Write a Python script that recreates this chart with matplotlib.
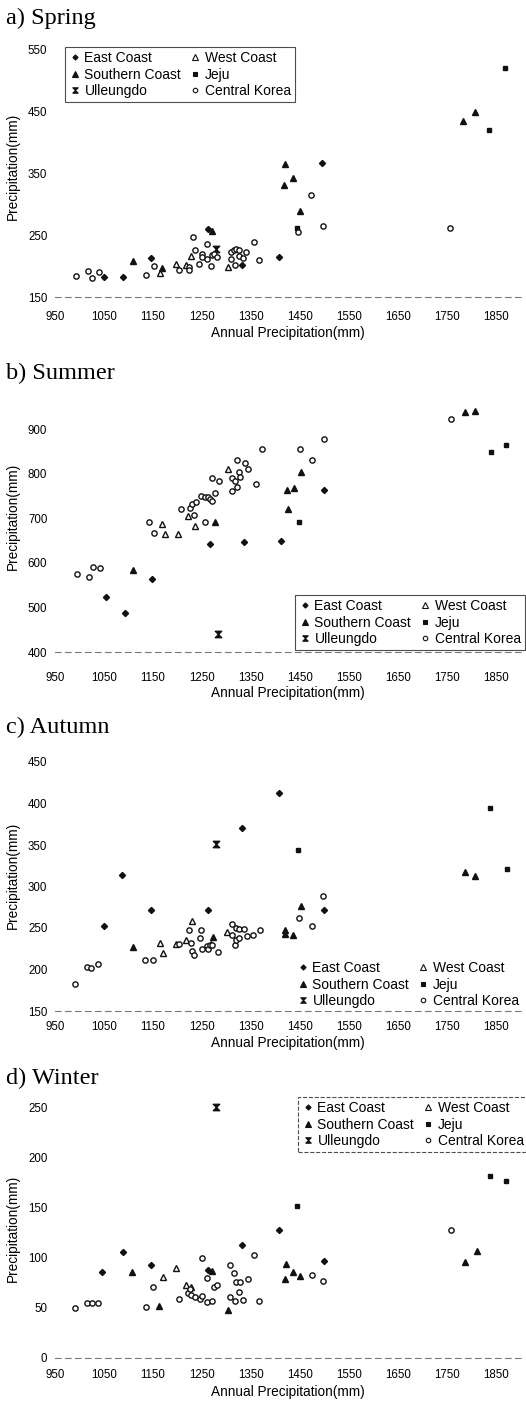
import matplotlib.pyplot as plt
from matplotlib.path import Path
from matplotlib.lines import Line2D

W, H = 526, 1406
SANS = "Liberation Sans"
SERIF = "Liberation Serif"

# station groups: E=East Coast, S=Southern Coast, U=Ulleungdo,
# W=West Coast, J=Jeju, C=Central Korea
GROUP_ORDER = ["E", "S", "U", "W", "J", "C"]
GROUP_NAMES = {"E": "East Coast", "S": "Southern Coast", "U": "Ulleungdo",
               "W": "West Coast", "J": "Jeju", "C": "Central Korea"}

XTICKS = [950, 1050, 1150, 1250, 1350, 1450, 1550, 1650, 1750, 1850]

# ---- a) Spring
spring_x = [1050, 1089, 1145, 1262, 1332, 1406, 1495,
            1110, 1169, 1271, 1417, 1418, 1435, 1450, 1782, 1807,
            1279,
            1164, 1196, 1218, 1228, 1302,
            1443, 1834, 1868,
            993, 1018, 1026, 1040, 1135, 1151, 1202, 1224, 1224, 1232, 1236, 1244,
            1249, 1249, 1259, 1260, 1269, 1270, 1274, 1281, 1308, 1309, 1315, 1317,
            1320, 1325, 1326, 1333, 1340, 1355, 1365, 1446, 1471, 1496, 1756]
spring_y = [183, 182, 213, 260, 202, 214, 366,
            208, 196, 256, 331, 365, 342, 289, 434, 449,
            228,
            189, 204, 202, 216, 199,
            262, 419, 519,
            184, 192, 181, 190, 185, 200, 194, 198, 193, 246, 226, 204,
            220, 214, 235, 211, 200, 218, 220, 214, 212, 223, 226, 202,
            228, 226, 216, 213, 223, 239, 210, 255, 314, 265, 262]
spring_grp = ["E"] * 7 + ["S"] * 9 + ["U"] + ["W"] * 5 + ["J"] * 3 + ["C"] * 35

# ---- b) Summer
summer_x = [1053, 1093, 1148, 1266, 1336, 1410, 1498,
            1110, 1276, 1422, 1424, 1437, 1451, 1785, 1807,
            1283,
            1169, 1175, 1200, 1222, 1235, 1303,
            1448, 1838, 1870,
            994, 1019, 1028, 1042, 1141, 1152, 1206, 1226, 1230, 1233, 1237, 1248,
            1255, 1255, 1262, 1267, 1271, 1271, 1276, 1285, 1311, 1311, 1317, 1321,
            1321, 1325, 1328, 1338, 1344, 1359, 1371, 1450, 1473, 1498, 1758]
summer_y = [524, 487, 563, 642, 647, 650, 763,
            584, 691, 763, 720, 768, 803, 939, 940,
            440,
            687, 666, 666, 706, 683, 810,
            692, 849, 864,
            576, 569, 590, 588, 692, 667, 720, 723, 732, 708, 737, 750,
            747, 692, 748, 744, 739, 791, 758, 783, 790, 761, 783, 832,
            771, 804, 793, 825, 810, 777, 855, 855, 832, 879, 922]
summer_grp = ["E"] * 7 + ["S"] * 8 + ["U"] + ["W"] * 6 + ["J"] * 3 + ["C"] * 35

# ---- c) Autumn
autumn_x = [1050, 1087, 1145, 1262, 1332, 1407, 1498,
            1108, 1272, 1418, 1419, 1435, 1451, 1786, 1807,
            1279,
            1164, 1171, 1196, 1218, 1230, 1269, 1301,
            1446, 1836, 1871,
            991, 1016, 1023, 1037, 1133, 1150, 1203, 1224, 1227, 1230, 1233,
            1245, 1248, 1250, 1260, 1262, 1265, 1270, 1283, 1310, 1311, 1316,
            1320, 1320, 1325, 1326, 1335, 1342, 1354, 1367, 1447, 1473, 1496]
autumn_y = [253, 314, 272, 272, 371, 413, 272,
            227, 239, 248, 243, 241, 277, 317, 313,
            351,
            232, 220, 231, 236, 258, 231, 245,
            344, 394, 321,
            183, 203, 202, 207, 212, 211, 231, 248, 232, 222, 218,
            238, 247, 225, 228, 225, 230, 229, 221, 241, 255, 230,
            235, 250, 238, 249, 249, 240, 242, 248, 262, 252, 288]
autumn_grp = ["E"] * 7 + ["S"] * 8 + ["U"] + ["W"] * 7 + ["J"] * 3 + ["C"] * 33

# ---- d) Winter
winter_x = [1046, 1088, 1145, 1262, 1332, 1407, 1498,
            1106, 1162, 1270, 1302, 1418, 1420, 1435, 1449, 1786, 1810,
            1278,
            1171, 1196, 1218, 1228,
            1444, 1836, 1870,
            991, 1016, 1026, 1038, 1135, 1149, 1202, 1221, 1225, 1228, 1235,
            1246, 1249, 1249, 1259, 1259, 1270, 1274, 1281, 1306, 1306, 1315,
            1317, 1319, 1325, 1327, 1334, 1344, 1355, 1366, 1473, 1497, 1758]
winter_y = [86, 106, 93, 88, 113, 128, 97,
            86, 52, 87, 48, 79, 94, 86, 82, 96, 107,
            251,
            81, 90, 73, 71,
            152, 182, 177,
            50, 55, 55, 55, 51, 71, 59, 65, 69, 63, 61,
            59, 62, 100, 80, 56, 57, 71, 73, 93, 61, 85,
            57, 76, 66, 76, 58, 79, 103, 57, 83, 77, 128]
winter_grp = ["E"] * 7 + ["S"] * 10 + ["U"] + ["W"] * 4 + ["J"] * 3 + ["C"] * 33

HOURGLASS = Path([(-1, 1), (1, 1), (0, 0), (1, -1), (-1, -1), (0, 0), (-1, 1)],
                 [Path.MOVETO] + [Path.LINETO] * 5 + [Path.CLOSEPOLY])

STYLE = {
    "E": dict(marker="D", ms=3.1, mfc="#111111"),
    "S": dict(marker="^", ms=4.4, mfc="#111111"),
    "U": dict(marker=HOURGLASS, ms=4.6, mfc="#111111"),
    "W": dict(marker="^", ms=4.4, mfc="white"),
    "J": dict(marker="s", ms=3.5, mfc="#111111"),
    "C": dict(marker="o", ms=3.8, mfc="white"),
}

# panel layout in pixels of the 526x1406 page
PANELS = [
    dict(title="a) Spring", title_py=18, x=spring_x, y=spring_y, g=spring_grp,
         ylim=(150, 550), yticks=range(150, 551, 100), top=49, bottom=297,
         xlab_py=333, ylab_py=166, tick_py=317, leg=(65, 47), frame="solid"),
    dict(title="b) Summer", title_py=373, x=summer_x, y=summer_y, g=summer_grp,
         ylim=(400, 950), yticks=range(400, 901, 100), top=407, bottom=652,
         xlab_py=693, ylab_py=516, tick_py=677, leg=(295, 595), frame="solid"),
    dict(title="c) Autumn", title_py=727, x=autumn_x, y=autumn_y, g=autumn_grp,
         ylim=(150, 450), yticks=range(150, 451, 50), top=762, bottom=1011,
         xlab_py=1043, ylab_py=875, tick_py=1027, leg=(293, 957), frame=None),
    dict(title="d) Winter", title_py=1078, x=winter_x, y=winter_y, g=winter_grp,
         ylim=(0, 250), yticks=range(0, 251, 50), top=1108, bottom=1358,
         xlab_py=1392, ylab_py=1228, tick_py=1375, leg=(298, 1097), frame="dashed"),
]

AX_L, AX_R = 55, 521

fig = plt.figure(figsize=(W / 100, H / 100), dpi=100)

for p in PANELS:
    hpx = p["bottom"] - p["top"]
    ax = fig.add_axes([AX_L / W, 1 - p["bottom"] / H, (AX_R - AX_L) / W, hpx / H])
    for code in GROUP_ORDER:
        xs = [x for x, g in zip(p["x"], p["g"]) if g == code]
        ys = [y for y, g in zip(p["y"], p["g"]) if g == code]
        ax.plot(xs, ys, ls="none", mec="#111111", mew=1.0, clip_on=False,
                **STYLE[code])

    ax.set_xlim(950, 1900)
    ax.set_ylim(*p["ylim"])
    ax.set_xticks(XTICKS)
    ax.set_yticks(list(p["yticks"]))
    for s in ("top", "right", "left"):
        ax.spines[s].set_visible(False)
    ax.spines["bottom"].set_color("#777777")
    ax.spines["bottom"].set_linewidth(0.8)
    ax.spines["bottom"].set_linestyle((0, (5, 4)))
    xpad = (p["tick_py"] - p["bottom"] - 5.5) * 0.72
    ax.tick_params(axis="x", length=0, pad=xpad, labelsize=8.3)
    ax.tick_params(axis="y", length=0, pad=5.5, labelsize=8.3)
    for lab in ax.get_xticklabels() + ax.get_yticklabels():
        lab.set_family(SANS)

    ax.set_xlabel("Annual Precipitation(mm)", family=SANS, fontsize=9.8)
    ax.xaxis.set_label_coords(0.5, (p["bottom"] - p["xlab_py"]) / hpx)
    ax.xaxis.label.set_va("center")
    ax.set_ylabel("Precipitation(mm)", family=SANS, fontsize=9.8)
    ax.yaxis.set_label_coords((13 - AX_L) / (AX_R - AX_L), (p["bottom"] - p["ylab_py"]) / hpx)
    ax.yaxis.label.set_va("center")

    fig.text(6 / W, 1 - p["title_py"] / H, p["title"], family=SERIF, fontsize=17.5,
             ha="left", va="center")

    handles = [Line2D([], [], ls="none", mec="#111111", mew=0.8,
                      **dict(STYLE[c], ms=STYLE[c]["ms"] * 0.85)) for c in GROUP_ORDER]
    labels = [GROUP_NAMES[c] for c in GROUP_ORDER]
    leg = ax.legend(handles, labels, loc="upper left", ncol=2,
                    bbox_to_anchor=(p["leg"][0] / W, 1 - p["leg"][1] / H),
                    bbox_transform=fig.transFigure, borderaxespad=0,
                    prop=dict(family=SANS, size=10), handlelength=0.8,
                    handletextpad=0.3, columnspacing=0.6, labelspacing=0.18,
                    borderpad=0.3, frameon=p["frame"] is not None, fancybox=False)
    if p["frame"] is not None:
        fr = leg.get_frame()
        fr.set_edgecolor("#222222")
        fr.set_linewidth(0.8)
        fr.set_linestyle(p["frame"])

fig.savefig("out.png", dpi=100)
